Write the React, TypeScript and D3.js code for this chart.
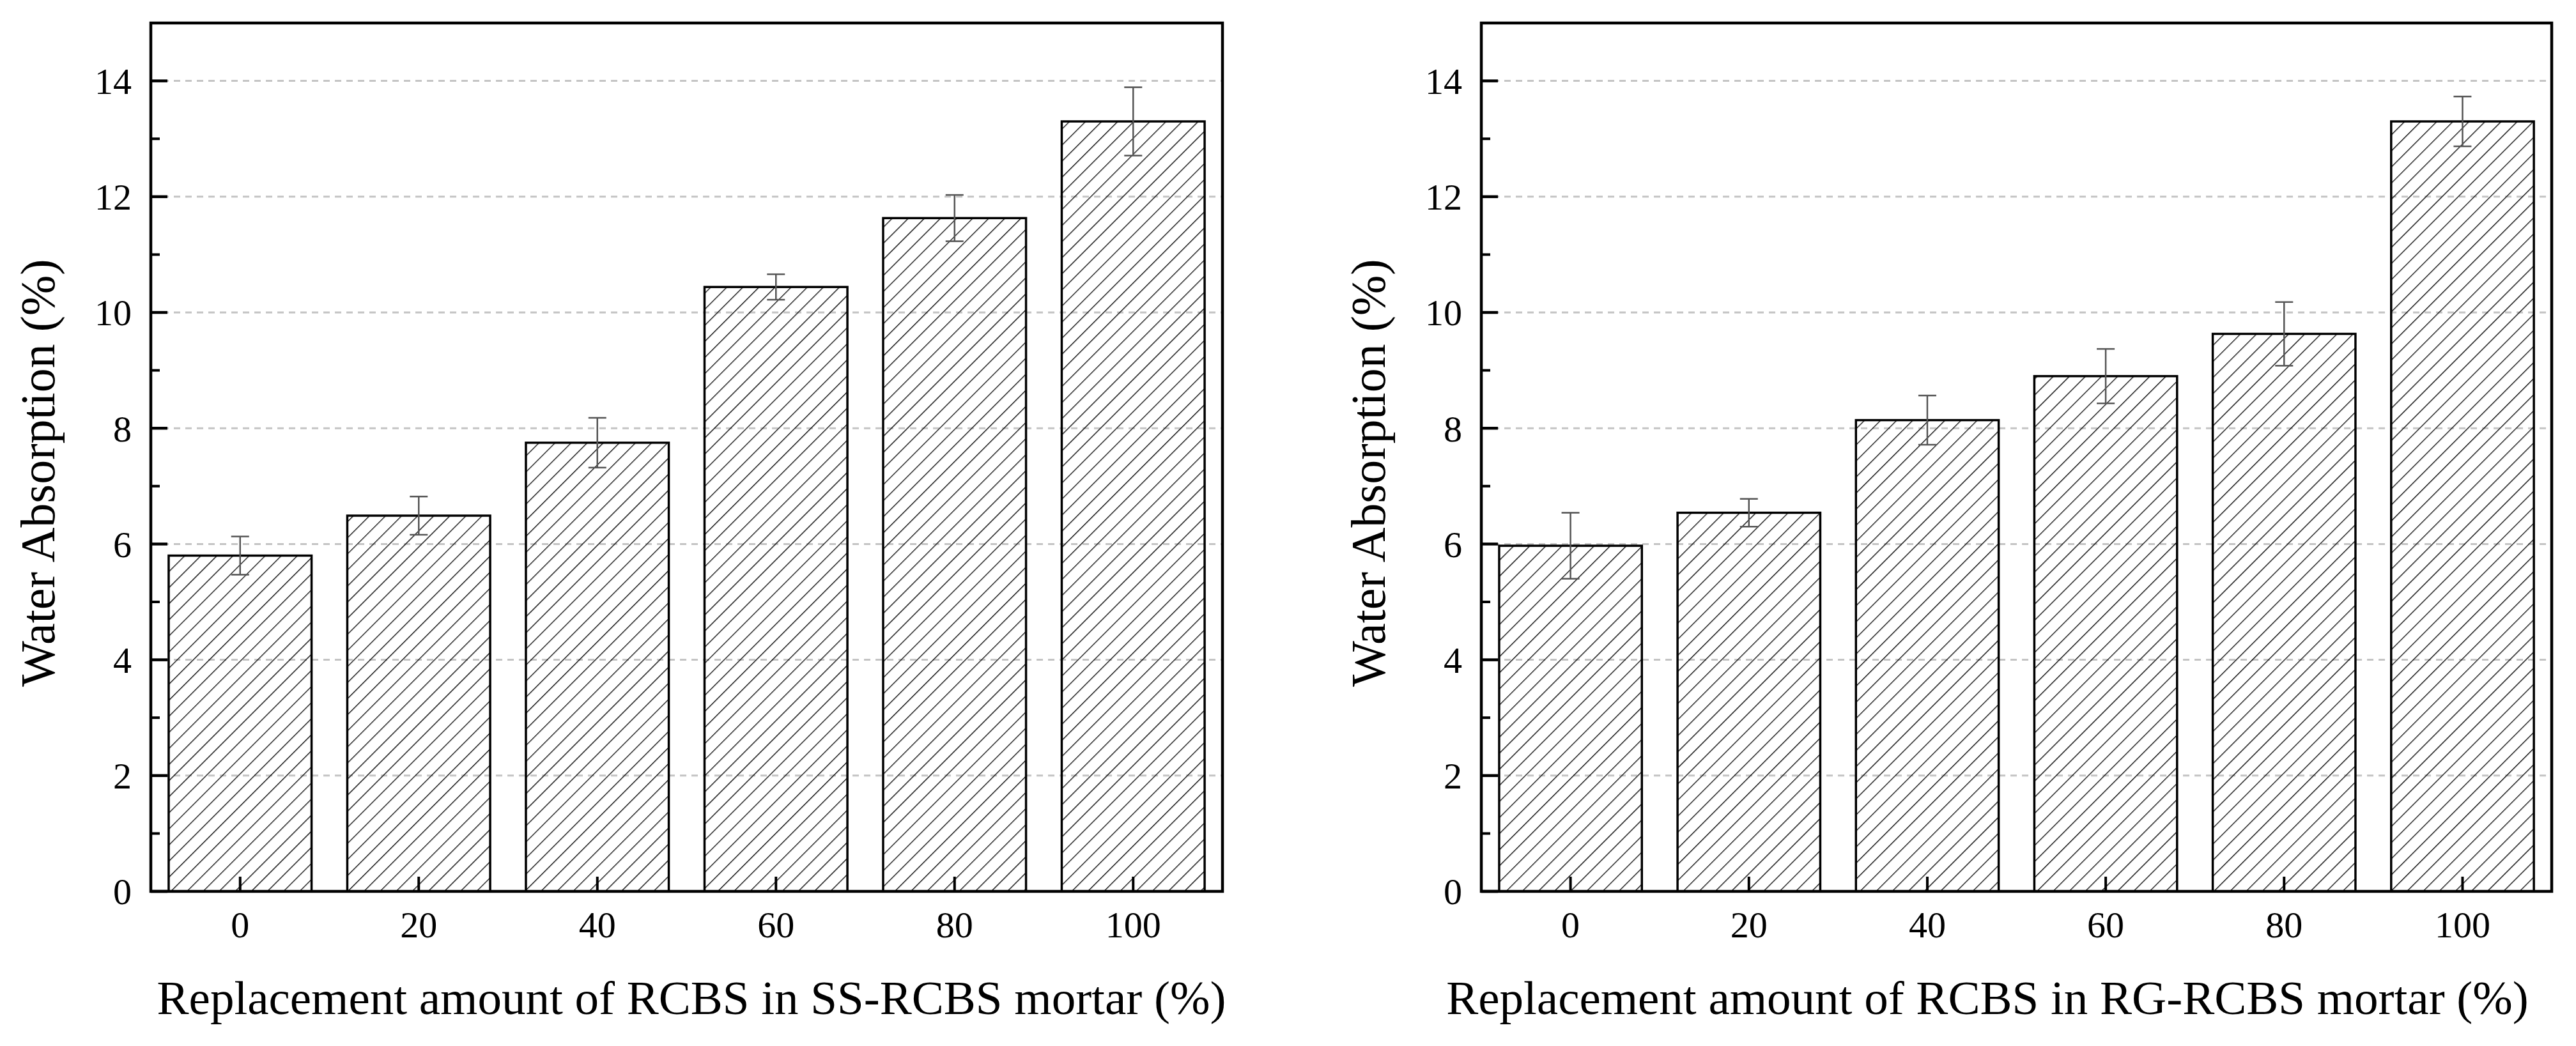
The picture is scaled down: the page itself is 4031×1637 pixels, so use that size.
import React from "react";
import * as d3 from "d3";

const categories = ["0", "20", "40", "60", "80", "100"];
const ssValues = [5.8, 6.49, 7.75, 10.44, 11.63, 13.3];
const ssErrors = [0.33, 0.33, 0.43, 0.22, 0.4, 0.59];
const rgValues = [5.97, 6.54, 8.14, 8.9, 9.63, 13.3];
const rgErrors = [0.57, 0.24, 0.425, 0.47, 0.55, 0.43];
const majorTicks = [0, 2, 4, 6, 8, 10, 12, 14];
const minorTicks = [1, 3, 5, 7, 9, 11, 13];
const gridTicks = [2, 4, 6, 8, 10, 12, 14];
const yTitle = "Water Absorption (%)";
const xTitleSS = "Replacement amount of RCBS in SS-RCBS mortar (%)";
const xTitleRG = "Replacement amount of RCBS in RG-RCBS mortar (%)";

const W = 4031;
const H = 1637;
const FONT = "'Liberation Serif', 'Times New Roman', Times, serif";

type PanelProps = {
  left: number;
  right: number;
  values: number[];
  errors: number[];
  xTitle: string;
  xTitleCenter: number;
};

function Panel({ left, right, values, errors, xTitle, xTitleCenter }: PanelProps) {
  const top = 36;
  const bottom = 1395;
  const x = d3
    .scaleBand<string>()
    .domain(categories)
    .range([left, right])
    .paddingInner(0.2)
    .paddingOuter(0.1);
  const y = d3.scaleLinear().domain([0, 15]).range([bottom, top]);
  const bw = x.bandwidth();
  const cap = 14;
  return (
    <g>
      {gridTicks.map((t) => (
        <line
          key={"g" + t}
          x1={left}
          x2={right}
          y1={y(t)}
          y2={y(t)}
          stroke="#c4c4c4"
          strokeWidth={3}
          strokeDasharray="10 8"
        />
      ))}
      {categories.map((c, i) => (
        <rect
          key={"b" + c}
          x={x(c)}
          y={y(values[i])}
          width={bw}
          height={bottom - y(values[i])}
          fill="url(#hatch)"
          stroke="#000"
          strokeWidth={3.5}
        />
      ))}
      {categories.map((c, i) => {
        const mx = (x(c) as number) + bw / 2;
        const hi = y(values[i] + errors[i]);
        const lo = y(values[i] - errors[i]);
        return (
          <g key={"e" + c} stroke="#555" strokeWidth={2.5}>
            <line x1={mx} x2={mx} y1={hi} y2={lo} />
            <line x1={mx - cap} x2={mx + cap} y1={hi} y2={hi} />
            <line x1={mx - cap} x2={mx + cap} y1={lo} y2={lo} />
          </g>
        );
      })}
      <rect
        x={left}
        y={top}
        width={right - left}
        height={bottom - top}
        fill="none"
        stroke="#000"
        strokeWidth={4.5}
      />
      {majorTicks.map((t) => (
        <g key={"yt" + t}>
          <line x1={left} x2={left + 26} y1={y(t)} y2={y(t)} stroke="#000" strokeWidth={4.5} />
          <text
            x={left - 30}
            y={y(t)}
            dy="0.35em"
            textAnchor="end"
            fontFamily={FONT}
            fontSize={58}
            fill="#000"
          >
            {t}
          </text>
        </g>
      ))}
      {minorTicks.map((t) => (
        <line key={"ym" + t} x1={left} x2={left + 14} y1={y(t)} y2={y(t)} stroke="#000" strokeWidth={4} />
      ))}
      {categories.map((c) => {
        const mx = (x(c) as number) + bw / 2;
        return (
          <g key={"xt" + c}>
            <line x1={mx} x2={mx} y1={bottom} y2={bottom - 23} stroke="#000" strokeWidth={4} />
            <text
              x={mx}
              y={1467}
              textAnchor="middle"
              fontFamily={FONT}
              fontSize={58}
              fill="#000"
            >
              {c}
            </text>
          </g>
        );
      })}
      <text
        x={xTitleCenter}
        y={1587}
        textAnchor="middle"
        fontFamily={FONT}
        fontSize={75}
        fill="#000"
      >
        {xTitle}
      </text>
      <text
        transform={`translate(${left - 151},${740}) rotate(-90)`}
        textAnchor="middle"
        fontFamily={FONT}
        fontSize={76}
        fill="#000"
      >
        {yTitle}
      </text>
    </g>
  );
}

export default function App() {
  return (
    <svg
      width={W}
      height={H}
      viewBox={`0 0 ${W} ${H}`}
      style={{ position: "absolute", left: 0, top: 0, background: "#fff" }}
    >
      <defs>
        <pattern
          id="hatch"
          patternUnits="userSpaceOnUse"
          width={17.8}
          height={17.8}
          patternTransform="rotate(45)"
        >
          <line x1={0} y1={-2} x2={0} y2={20} stroke="#000" strokeWidth={2.6} />
        </pattern>
      </defs>
      <rect x={0} y={0} width={W} height={H} fill="#fff" />
      <Panel left={236} right={1913} values={ssValues} errors={ssErrors} xTitle={xTitleSS} xTitleCenter={1082} />
      <Panel left={2318} right={3993} values={rgValues} errors={rgErrors} xTitle={xTitleRG} xTitleCenter={3110} />
    </svg>
  );
}
